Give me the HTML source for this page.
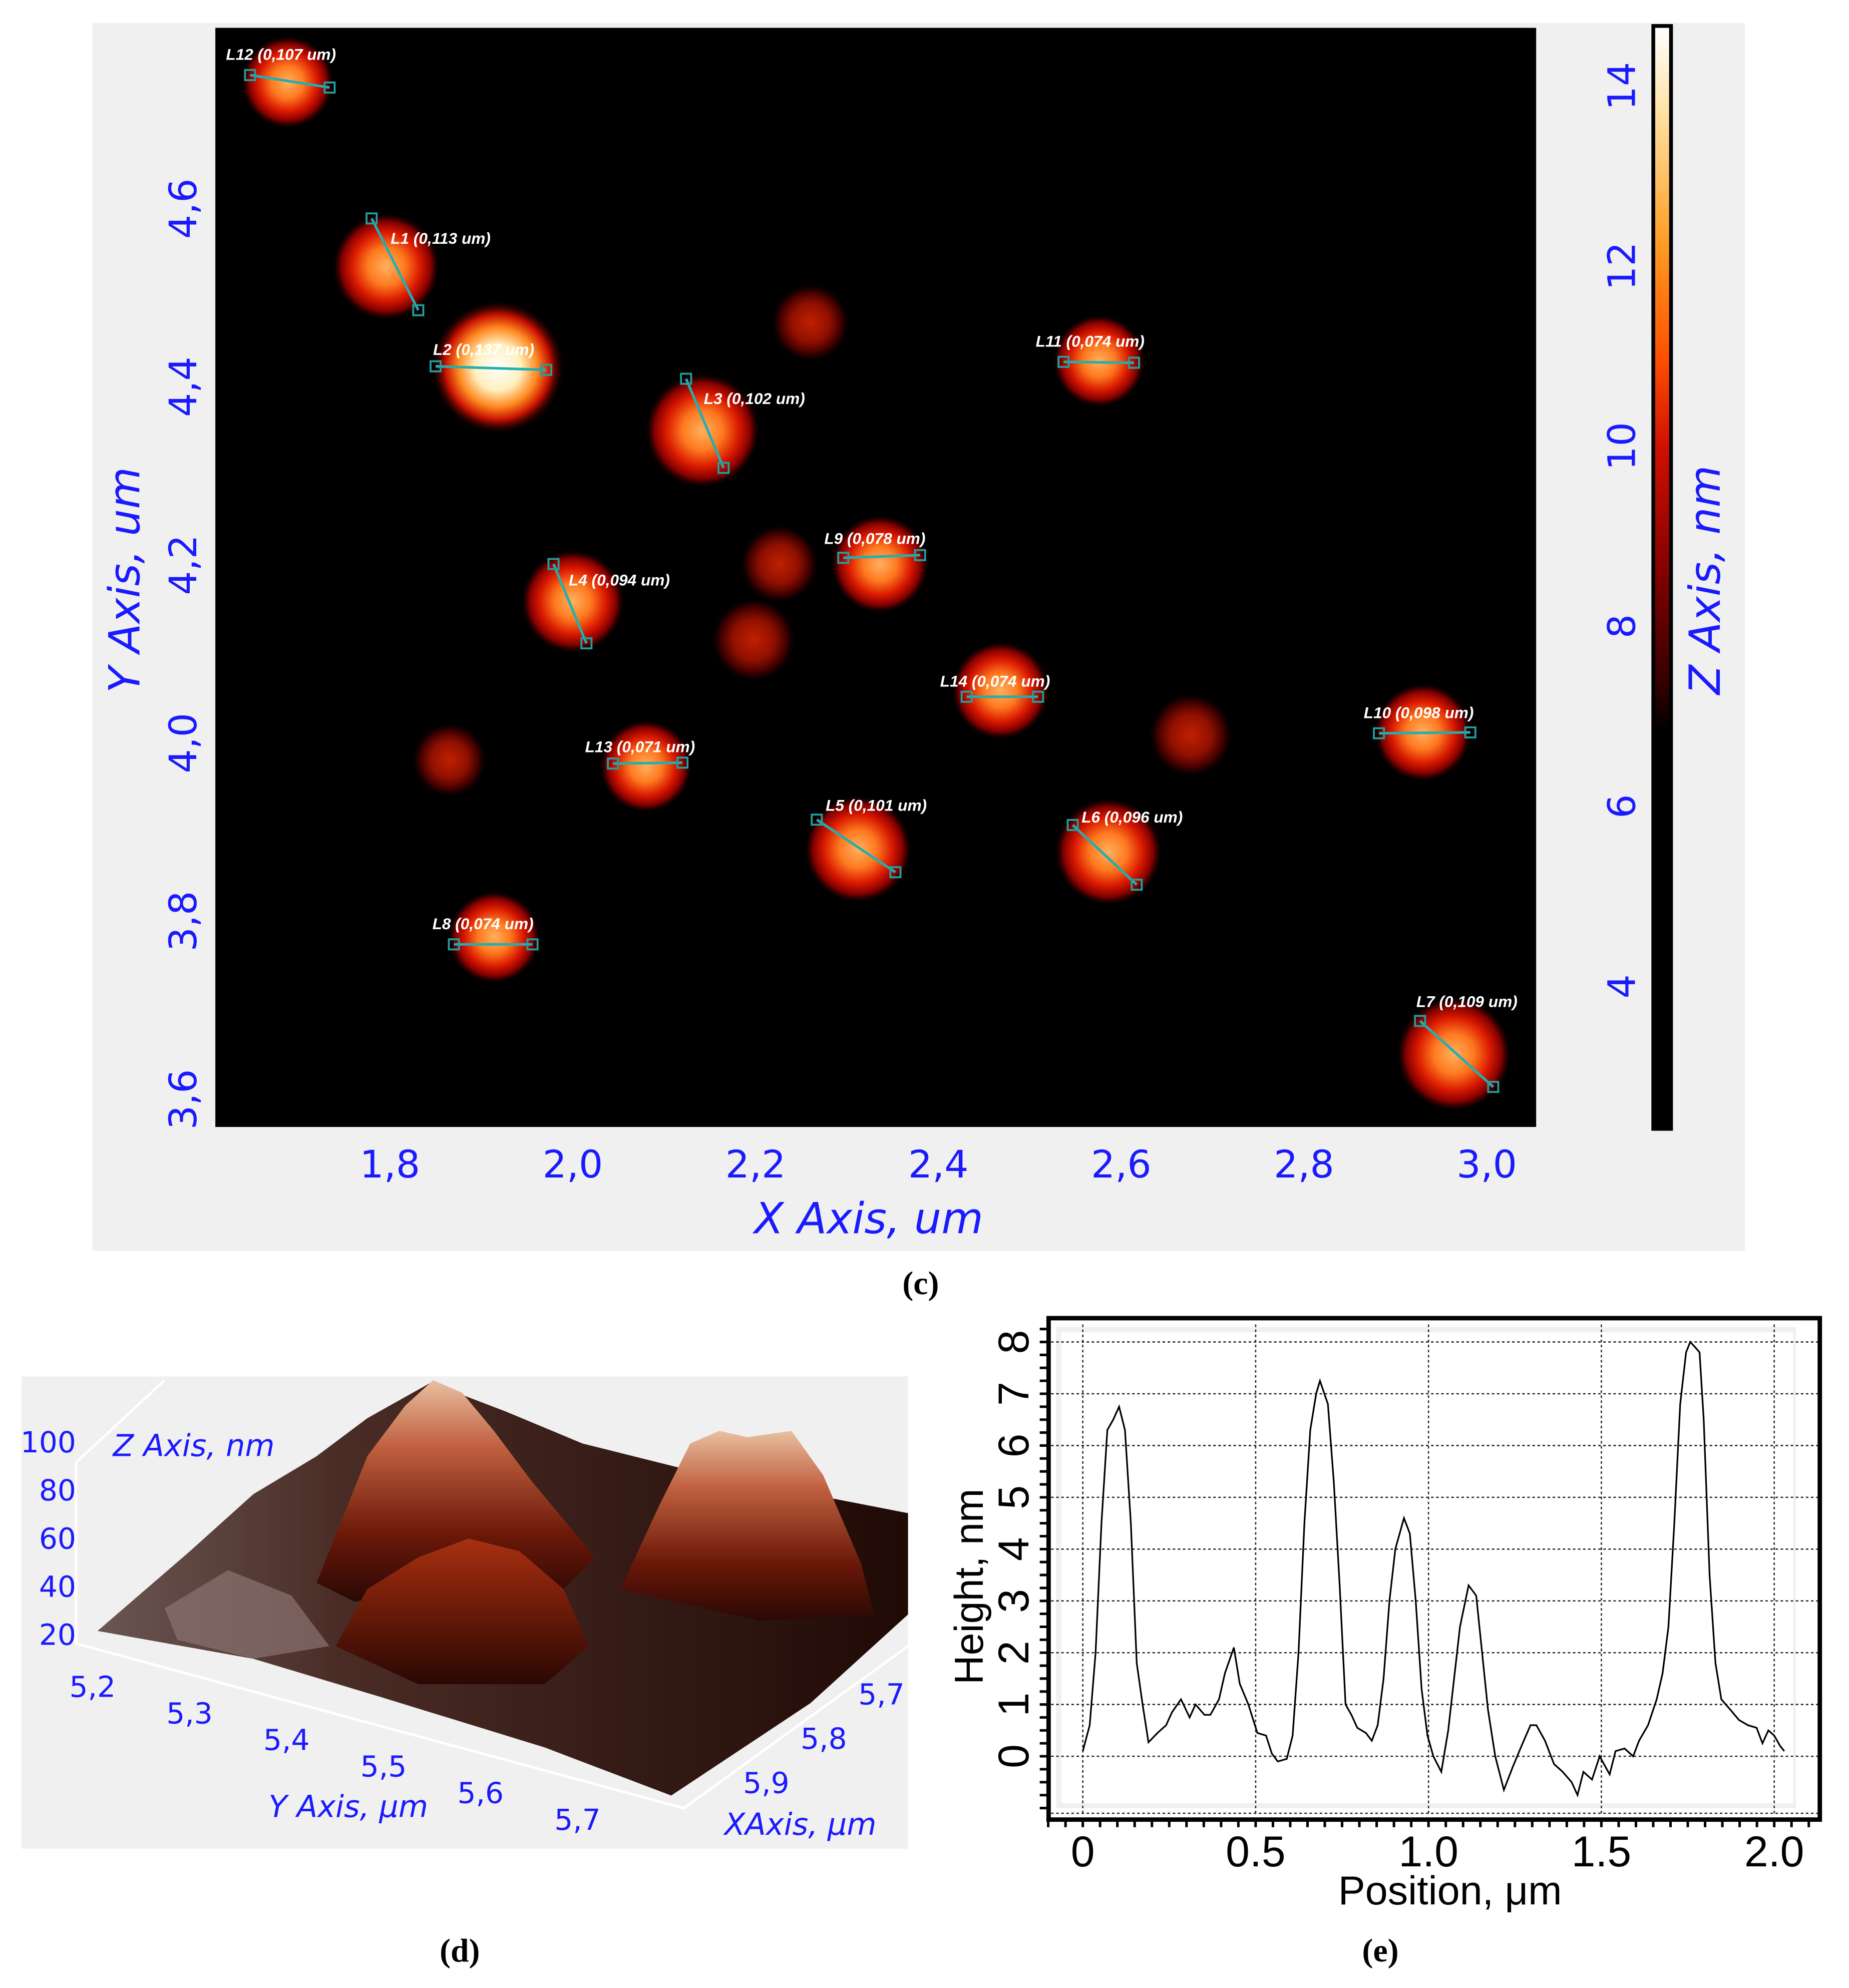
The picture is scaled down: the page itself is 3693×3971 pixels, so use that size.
<!DOCTYPE html>
<html><head><meta charset="utf-8"><style>
html,body{margin:0;padding:0;background:#fff;}
svg{display:block;}
.bl{font-family:"DejaVu Sans","Liberation Sans",sans-serif;fill:#1a1aff;}
.lab{font-family:"Liberation Sans",sans-serif;font-style:italic;font-weight:bold;fill:#fff;font-size:12.5px;}
.ser{font-family:"Liberation Serif",serif;font-weight:bold;font-size:26px;fill:#000;}
.ax{font-family:"Liberation Sans",sans-serif;fill:#000;}
</style></head><body>
<svg id="root" width="3693" height="3971" viewBox="0 0 1460 1570" xmlns="http://www.w3.org/2000/svg">
<defs>
<radialGradient id="gHot"><stop offset="0" stop-color="#ffffff"/><stop offset="0.35" stop-color="#fff0c0"/><stop offset="0.6" stop-color="#ff8a20"/><stop offset="0.8" stop-color="#c81000"/><stop offset="1" stop-color="#400000" stop-opacity="0"/></radialGradient>
<radialGradient id="gMed"><stop offset="0" stop-color="#ffb060"/><stop offset="0.35" stop-color="#ff7a20"/><stop offset="0.65" stop-color="#d81800"/><stop offset="0.85" stop-color="#800000"/><stop offset="1" stop-color="#300000" stop-opacity="0"/></radialGradient>
<radialGradient id="gDim"><stop offset="0" stop-color="#c02000"/><stop offset="0.5" stop-color="#901000"/><stop offset="0.8" stop-color="#400000"/><stop offset="1" stop-color="#200000" stop-opacity="0"/></radialGradient>
<linearGradient id="cbar" x1="0" y1="0" x2="0" y2="1"><stop offset="0" stop-color="#ffffff"/><stop offset="0.08" stop-color="#ffe0a0"/><stop offset="0.2" stop-color="#ff9a20"/><stop offset="0.3" stop-color="#ff5000"/><stop offset="0.38" stop-color="#d01000"/><stop offset="0.5" stop-color="#800000"/><stop offset="0.6" stop-color="#300000"/><stop offset="0.64" stop-color="#000"/><stop offset="1" stop-color="#000"/></linearGradient>
<linearGradient id="pk" x1="0" y1="0" x2="0" y2="1"><stop offset="0" stop-color="#e8c0a0"/><stop offset="0.3" stop-color="#c06040"/><stop offset="0.7" stop-color="#6a1808"/><stop offset="1" stop-color="#2a0804"/></linearGradient>
<linearGradient id="dome" x1="0" y1="0" x2="0" y2="1"><stop offset="0" stop-color="#a83010"/><stop offset="0.5" stop-color="#6a1a08"/><stop offset="1" stop-color="#2a0804"/></linearGradient>
<linearGradient id="floor" x1="0" y1="0" x2="1" y2="0"><stop offset="0" stop-color="#6a5652"/><stop offset="0.3" stop-color="#4a2c26"/><stop offset="1" stop-color="#200a06"/></linearGradient>
</defs>

<rect x="73" y="18" width="1305" height="970" fill="#f0f0f0"/>
<rect x="170" y="22" width="1043" height="868" fill="#000"/>
<g id="blobs"></g>
<g id="meas"></g>
<g id="cticks"></g>
<text class="bl" x="686" y="974" font-size="34" font-style="italic" text-anchor="middle">X Axis, um</text>
<text class="bl" transform="translate(110,458) rotate(-90)" font-size="34" font-style="italic" text-anchor="middle">Y Axis, um</text>
<text class="bl" transform="translate(1358,458) rotate(-90)" font-size="34" font-style="italic" text-anchor="middle">Z Axis, nm</text>
<rect x="1304" y="19" width="17" height="874" fill="#000"/>
<rect x="1307" y="22" width="11" height="868" fill="url(#cbar)"/>
<text class="ser" x="727" y="1022" text-anchor="middle">(c)</text>

<g>
<rect x="17" y="1087" width="700" height="373" fill="#f0f0f0"/>
<polyline points="60,1155 60,1298 540,1428 717,1300" fill="none" stroke="#fff" stroke-width="2"/>
<line x1="60" y1="1155" x2="130" y2="1090" stroke="#fff" stroke-width="2"/>
<polygon points="77,1288 150,1225 200,1180 250,1150 290,1120 340,1092 400,1115 460,1140 560,1165 640,1180 717,1195 717,1275 640,1345 530,1418 430,1380 300,1340 200,1310" fill="url(#floor)"/>
<polygon points="130,1270 180,1240 230,1260 260,1300 200,1310 140,1295" fill="#8a7470" opacity="0.7"/>
<polygon points="250,1250 290,1150 320,1110 342,1090 365,1100 390,1130 420,1170 470,1230 440,1260 350,1250 280,1265" fill="url(#pk)"/>
<polygon points="490,1255 520,1190 545,1140 568,1130 590,1135 625,1130 650,1165 680,1235 690,1275 600,1280" fill="url(#pk)"/>
<polygon points="265,1300 290,1255 330,1230 370,1215 410,1225 445,1255 465,1300 430,1330 330,1330" fill="url(#dome)"/>
<g id="dticks"></g>
<text class="bl" x="153" y="1150" font-size="24" font-style="italic" text-anchor="middle">Z Axis, nm</text>
<text class="bl" x="275" y="1435" font-size="24" font-style="italic" text-anchor="middle">Y Axis, μm</text>
<text class="bl" x="632" y="1449" font-size="24" font-style="italic" text-anchor="middle">XAxis, μm</text>
</g>
<text class="ser" x="363" y="1549" text-anchor="middle">(d)</text>

<g id="pe">
<rect x="828" y="1041" width="609" height="396" fill="#fff"/>
<rect x="834" y="1048" width="584" height="380" fill="#f0f0f0"/>
<rect x="838" y="1052" width="578" height="372" fill="#fff"/>
</g>
<text class="ser" x="1090" y="1549" text-anchor="middle">(e)</text>
</svg>
<script>
const NS='http://www.w3.org/2000/svg';
function mk(t,a,p){const e=document.createElementNS(NS,t);for(const k in a)e.setAttribute(k,a[k]);(p||document.getElementById('root')).appendChild(e);return e;}

const particleX=[1.688,1.796,1.918,2.260,2.576,2.142,2.336,2.226,2.000,2.198,2.468,2.676,2.930,1.865,2.080,2.312,2.586,1.914,2.964];
const particleY=[4.742,4.535,4.422,4.472,4.429,4.351,4.201,4.201,4.159,4.116,4.059,4.009,4.012,3.981,3.974,3.881,3.878,3.782,3.651];
const particleR=[0.050,0.058,0.072,0.042,0.050,0.062,0.053,0.042,0.056,0.045,0.053,0.045,0.053,0.040,0.050,0.058,0.058,0.050,0.062];
const particleLevel=['med','med','hot','dim','med','med','med','dim','med','dim','med','dim','med','dim','med','med','med','med','med'];
const xTicks=[1.8,2.0,2.2,2.4,2.6,2.8,3.0];
const yTicks=[3.6,3.8,4.0,4.2,4.4,4.6];
const zTicks=[4,6,8,10,12,14];
const measNames=['L12 (0,107 um)','L1 (0,113 um)','L2 (0,137 um)','L3 (0,102 um)','L11 (0,074 um)','L9 (0,078 um)','L4 (0,094 um)','L14 (0,074 um)','L10 (0,098 um)','L13 (0,071 um)','L5 (0,101 um)','L6 (0,096 um)','L8 (0,074 um)','L7 (0,109 um)'];
const measX1=[1.647,1.780,1.850,2.124,2.537,2.296,1.979,2.431,2.882,2.044,2.267,2.547,1.870,2.927];
const measY1=[4.750,4.589,4.423,4.409,4.428,4.208,4.201,4.052,4.011,3.977,3.914,3.908,3.774,3.688];
const measX2=[1.734,1.831,1.971,2.165,2.614,2.380,2.015,2.509,2.982,2.120,2.353,2.617,1.956,3.007];
const measY2=[4.736,4.486,4.419,4.309,4.427,4.211,4.112,4.052,4.012,3.978,3.855,3.841,3.774,3.614];
// label offsets (px) relative to first endpoint — styling
const labDx=[-19,15,-2,14,-22,-15,12,-21,-12,-22,7,7,-17,-3];
const labDy=[-12,20,-9,20,-12,-11,17,-8,-12,-9,-7,-2,-12,-11];

const X0=1.609,X1=3.054,Y0=3.569,Y1=4.803;
const sx=v=>170+(v-X0)/(X1-X0)*1043;
const sy=v=>890-(v-Y0)/(Y1-Y0)*868;
const sr=v=>v*721.7;
const szc=v=>779-(v-4)*71.1;

const bg=document.getElementById('blobs');
for(let i=0;i<particleX.length;i++){
  const g={hot:'gHot',med:'gMed',dim:'gDim'}[particleLevel[i]];
  const c=mk('circle',{cx:sx(particleX[i]),cy:sy(particleY[i]),r:sr(particleR[i]),fill:'url(#'+g+')'},bg);
  
  
}
const mg=document.getElementById('meas');
for(let i=0;i<measNames.length;i++){
  const a=sx(measX1[i]),b=sy(measY1[i]),c=sx(measX2[i]),d=sy(measY2[i]);
  const l=mk('line',{x1:a,y1:b,x2:c,y2:d,stroke:'#20b0b0','stroke-width':2},mg);
  
  
  mk('rect',{x:a-4,y:b-4,width:8,height:8,fill:'none',stroke:'#20a0a0','stroke-width':1.5},mg);
  mk('rect',{x:c-4,y:d-4,width:8,height:8,fill:'none',stroke:'#20a0a0','stroke-width':1.5},mg);
  const t=mk('text',{x:a+labDx[i],y:b+labDy[i],class:'lab'},mg);
  t.textContent=measNames[i];
  
  
}
const ct=document.getElementById('cticks');
xTicks.forEach(v=>{const t=mk('text',{x:sx(v),y:930,class:'bl','font-size':30,'text-anchor':'middle'},ct);t.textContent=v.toFixed(1).replace('.',',');
  
  });
yTicks.forEach(v=>{const t=mk('text',{transform:'translate(155,'+sy(v)+') rotate(-90)',class:'bl','font-size':30,'text-anchor':'middle'},ct);t.textContent=v.toFixed(1).replace('.',',');
  
  });
zTicks.forEach(v=>{const t=mk('text',{transform:'translate(1291,'+szc(v)+') rotate(-90)',class:'bl','font-size':30,'text-anchor':'middle'},ct);t.textContent=String(v);
  
  });

const dZTicks=[20,40,60,80,100];
const dYTicks=['5,2','5,3','5,4','5,5','5,6','5,7'];
const dXTicks=['5,7','5,8','5,9'];
const dg=document.getElementById('dticks');
dZTicks.forEach((v,i)=>{const t=mk('text',{x:60,y:1299-i*38,class:'bl','font-size':23,'text-anchor':'end'},dg);t.textContent=v;
  
  });
dYTicks.forEach((v,i)=>{const t=mk('text',{x:73+i*76.6,y:1340+i*21,class:'bl','font-size':23,'text-anchor':'middle'},dg);t.textContent=v;
  
  });
dXTicks.forEach((v,i)=>{const t=mk('text',{x:696-i*45.5,y:1346+i*35,class:'bl','font-size':23,'text-anchor':'middle'},dg);t.textContent=v;
  
  });

const posUm=[0,.020,.037,.054,.071,.088,.105,.122,.139,.156,.173,.190,.216,.241,.258,.284,.309,.326,.352,.369,.394,.411,.437,.454,.479,.505,.530,.547,.564,.590,.607,.624,.641,.658,.675,.686,.709,.726,.743,.760,.777,.794,.819,.836,.853,.870,.887,.904,.929,.946,.963,.980,.997,1.014,1.037,1.057,1.074,1.091,1.116,1.138,1.155,1.172,1.193,1.218,1.244,1.269,1.295,1.312,1.337,1.363,1.388,1.414,1.431,1.448,1.473,1.495,1.524,1.541,1.567,1.592,1.609,1.635,1.660,1.677,1.694,1.711,1.728,1.745,1.757,1.771,1.784,1.796,1.813,1.830,1.847,1.873,1.898,1.924,1.949,1.966,1.983,2.000,2.017,2.029];
const heightNm=[0.1,0.6,2,4.5,6.3,6.5,6.75,6.3,4.5,1.8,1.0,0.27,0.45,0.6,0.85,1.1,0.75,1.0,0.8,0.8,1.1,1.6,2.1,1.4,1.0,0.45,0.4,0.05,-0.1,-0.05,0.4,2.0,4.5,6.3,7.0,7.25,6.8,5.3,3.3,1.0,0.8,0.55,0.45,0.3,0.6,1.5,3.0,4.0,4.6,4.3,3.0,1.3,0.4,0.0,-0.3,0.5,1.5,2.5,3.3,3.1,2.0,0.9,0.0,-0.65,-0.2,0.2,0.6,0.6,0.3,-0.15,-0.3,-0.5,-0.75,-0.3,-0.45,0.0,-0.35,0.1,0.15,0.0,0.3,0.6,1.1,1.6,2.5,4.5,6.8,7.8,8.0,7.9,7.8,6.5,3.5,1.8,1.1,0.9,0.7,0.6,0.55,0.25,0.5,0.4,0.2,0.1];
const eXTicks=[0,0.5,1.0,1.5,2.0];
const eYTicks=[0,1,2,3,4,5,6,7,8];
const ex=v=>855+v*273;
const ey=v=>1387-v*40.9;
const pe=document.getElementById('pe');
eXTicks.forEach(v=>{const l=mk('line',{x1:ex(v),y1:1046,x2:ex(v),y2:1434,stroke:'#222','stroke-width':1,'stroke-dasharray':'2,2'},pe);
  
  
  const t=mk('text',{x:ex(v),y:1474,class:'ax','font-size':34,'text-anchor':'middle'},pe);t.textContent=v===0?'0':v.toFixed(1);
  
  });
eYTicks.forEach(v=>{const l=mk('line',{x1:830,y1:ey(v),x2:1436,y2:ey(v),stroke:'#222','stroke-width':1,'stroke-dasharray':'2,2'},pe);
  
  
  const t=mk('text',{transform:'translate(812,'+ey(v)+') rotate(-90)',class:'ax','font-size':34,'text-anchor':'middle'},pe);t.textContent=String(v);
  
  });
mk('line',{x1:830,y1:1432,x2:1436,y2:1432,stroke:'#222','stroke-width':1,'stroke-dasharray':'2,2'},pe);
for(let v=-0.1;v<=2.15;v+=0.05){mk('line',{x1:ex(v),y1:1437,x2:ex(v),y2:1443,stroke:'#000','stroke-width':2},pe);}
for(let v=-1;v<=8.3;v+=0.25){mk('line',{x1:821,y1:ey(v),x2:828,y2:ey(v),stroke:'#000','stroke-width':2},pe);}
const pts=posUm.map((v,i)=>ex(v)+','+ey(heightNm[i])).join(' ');
const pl=mk('polyline',{points:pts,fill:'none',stroke:'#000','stroke-width':1.3},pe);


const fr=mk('rect',{x:828,y:1041,width:609,height:396,fill:'none',stroke:'#000','stroke-width':3.5},pe);


const xt=mk('text',{x:1145,y:1504,class:'ax','font-size':32,'text-anchor':'middle'},pe);xt.textContent='Position, μm';


const yt=mk('text',{transform:'translate(776,1253) rotate(-90)',class:'ax','font-size':32,'text-anchor':'middle'},pe);yt.textContent='Height, nm';


</script>
</body></html>
